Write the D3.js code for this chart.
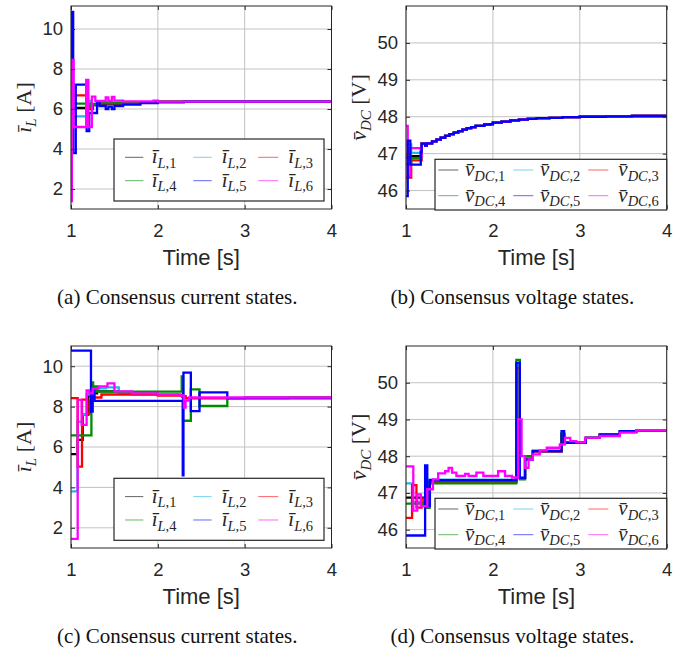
<!DOCTYPE html>
<html>
<head>
<meta charset="utf-8">
<script src="https://cdn.jsdelivr.net/npm/d3@7"></script>
<style>
  body { margin: 0; background: #fff; }
  svg { display: block; }
  .tick text { font-family: "Liberation Sans", Arial, sans-serif; font-size: 18.5px; fill: #262626; }
  .tick line { stroke: #262626; }
  .xlabel { font-family: "Liberation Sans", Arial, sans-serif; font-size: 22px; fill: #262626; }
  .caption { font-family: "Liberation Serif", "Times New Roman", serif; font-size: 21px; fill: #111; }
  .math { font-family: "Liberation Serif", "Times New Roman", serif; fill: #262626; }
</style>
</head>
<body>
<div id="chart"></div>
<script>
const timeTicks = [1, 2, 3, 4];
const currentTicks = [2, 4, 6, 8, 10];
const voltageTicks = [46, 47, 48, 49, 50];
const seriesColors = ['#000000', '#22b4ee', '#ff0000', '#008c00', '#0000ff', '#ff00ff'];
const currentSubs = ['L,1', 'L,2', 'L,3', 'L,4', 'L,5', 'L,6'];
const voltageSubs = ['DC,1', 'DC,2', 'DC,3', 'DC,4', 'DC,5', 'DC,6'];
const captions = [
  '(a) Consensus current states.',
  '(b) Consensus voltage states.',
  '(c) Consensus current states.',
  '(d) Consensus voltage states.'
];

// (a) consensus currents, [time, value] step points
const iL_a = [
  [[1, 6.05], [1.18, 6.1], [1.21, 6.0], [1.25, 6.2], [1.4, 6.25], [1.6, 6.32], [2, 6.36], [4, 6.37]],
  [[1, 5.63], [1.18, 6.4], [1.22, 6.2], [1.3, 6.3], [1.6, 6.34], [2, 6.37], [4, 6.37]],
  [[1, 6.68], [1.18, 6.05], [1.22, 6.2], [1.3, 6.28], [1.6, 6.34], [2, 6.37], [4, 6.37]],
  [[1, 6.27], [1.18, 6.15], [1.22, 6.25], [1.3, 6.3], [1.6, 6.34], [2, 6.37], [4, 6.37]],
  [[1, 6.0], [1.008, 10.85], [1.025, 3.8], [1.055, 7.22], [1.18, 4.9], [1.21, 5.8], [1.3, 6.35], [1.33, 6.15],
   [1.4, 6.0], [1.43, 6.12], [1.47, 6.0], [1.5, 6.15], [1.6, 6.22], [1.8, 6.3], [2.0, 6.33], [2.3, 6.37], [4, 6.37]],
  [[1, 1.4], [1.01, 8.45], [1.03, 5.1], [1.175, 7.45], [1.2, 5.1], [1.24, 6.62], [1.28, 6.4], [1.4, 6.58],
   [1.43, 6.4], [1.47, 6.6], [1.5, 6.42], [1.6, 6.38], [1.95, 6.42], [2.0, 6.37], [4, 6.37]]
];

// (b) consensus voltages
const vDC_b_tail = [
  [1.18, 47.27], [1.22, 47.22], [1.24, 47.28], [1.3, 47.33], [1.35, 47.38], [1.4, 47.43], [1.45, 47.48],
  [1.5, 47.53], [1.55, 47.57], [1.6, 47.61], [1.65, 47.65], [1.7, 47.69], [1.75, 47.72], [1.8, 47.75],
  [1.9, 47.79], [1.97, 47.8], [2.0, 47.84], [2.1, 47.87], [2.2, 47.9], [2.3, 47.92], [2.4, 47.94],
  [2.5, 47.96], [2.65, 47.97], [2.8, 47.99], [3.0, 48.0], [3.3, 48.01], [3.6, 48.02], [4, 48.03]
];
const vDC_b = [
  [[1, 46.9], [1.06, 46.93], ...vDC_b_tail],
  [[1, 47.25], [1.06, 47.02], ...vDC_b_tail],
  [[1, 46.35], [1.06, 46.82], ...vDC_b_tail],
  [[1, 46.72], [1.06, 46.88], ...vDC_b_tail],
  [[1, 45.85], [1.02, 47.35], [1.05, 46.7], [1.17, 47.05], ...vDC_b_tail],
  [[1, 47.75], [1.02, 46.4], [1.05, 47.15], [1.17, 46.9], ...vDC_b_tail]
];

// (c) consensus currents
const iL_c = [
  [[1, 5.65], [1.075, 6.35], [1.135, 7.6], [1.2, 8.55], [1.25, 8.65], [1.3, 8.75], [1.55, 8.7], [1.7, 8.62],
   [2.0, 8.58], [2.28, 8.5], [2.32, 8.42], [3.0, 8.44], [4, 8.45]],
  [[1, 3.8], [1.075, 7.25], [1.13, 7.6], [1.18, 8.6], [1.25, 8.8], [1.3, 8.9], [1.4, 8.95], [1.55, 8.7],
   [2.0, 8.58], [2.28, 8.5], [2.32, 8.42], [4, 8.45]],
  [[1, 8.42], [1.077, 5.03], [1.127, 8.35], [1.19, 7.65], [1.22, 8.3], [1.26, 8.45], [1.35, 8.6], [1.6, 8.6],
   [2.0, 8.55], [2.28, 8.5], [2.32, 8.42], [4, 8.45]],
  [[1, 6.58], [1.235, 9.2], [1.255, 8.4], [1.27, 9.0], [1.3, 8.74], [2.275, 9.5], [2.29, 7.3], [2.38, 8.85],
   [2.48, 8.03], [2.8, 8.42], [3.5, 8.45], [4, 8.45]],
  [[1, 10.77], [1.23, 7.75], [1.25, 8.9], [1.27, 8.28], [2.287, 4.6], [2.295, 9.68], [2.38, 7.78],
   [2.48, 8.7], [2.8, 8.42], [4, 8.45]],
  [[1, 1.45], [1.077, 8.33], [1.123, 7.1], [1.18, 8.8], [1.21, 8.65], [1.25, 8.9], [1.32, 9.0], [1.42, 9.15],
   [1.5, 8.75], [1.7, 8.65], [2.0, 8.6], [2.25, 8.55], [2.3, 7.95], [2.32, 8.3], [2.36, 8.45], [4, 8.45]]
];

// (d) consensus voltages
const vDC_d = [
  [[1, 46.87], [1.22, 46.6], [1.27, 47.3], [2.27, 50.5], [2.31, 47.4], [2.37, 47.93], [2.46, 48.13],
   [2.79, 48.6], [2.82, 48.37], [3.07, 48.5], [3.23, 48.58], [3.46, 48.66], [3.65, 48.7], [4, 48.71]],
  [[1, 47.26], [1.07, 46.75], [1.22, 46.65], [1.27, 47.36], [2.27, 50.5], [2.31, 47.42], [2.37, 47.92],
   [2.46, 48.14], [2.79, 48.6], [2.82, 48.37], [3.07, 48.5], [3.23, 48.58], [3.46, 48.66], [3.65, 48.7], [4, 48.71]],
  [[1, 46.32], [1.07, 47.21], [1.12, 46.6], [1.18, 46.85], [1.21, 46.65], [1.27, 47.3], [2.27, 50.4],
   [2.31, 47.4], [2.37, 47.92], [2.46, 48.13], [2.79, 48.6], [2.82, 48.37], [3.07, 48.5], [3.23, 48.58],
   [3.46, 48.66], [3.65, 48.7], [4, 48.71]],
  [[1, 46.71], [1.22, 46.6], [1.27, 47.26], [2.27, 50.62], [2.31, 47.37], [2.37, 48.0], [2.46, 48.15],
   [2.79, 48.62], [2.82, 48.38], [3.07, 48.5], [3.23, 48.58], [3.46, 48.66], [3.65, 48.7], [4, 48.71]],
  [[1, 45.84], [1.22, 47.75], [1.245, 46.65], [1.275, 47.35], [2.27, 50.54], [2.31, 47.41], [2.37, 47.91],
   [2.46, 48.14], [2.79, 48.68], [2.82, 48.36], [3.07, 48.5], [3.23, 48.59], [3.46, 48.68], [3.65, 48.71], [4, 48.71]],
  [[1, 47.72], [1.084, 46.52], [1.13, 46.96], [1.17, 46.64], [1.245, 47.1], [1.31, 47.37], [1.37, 47.53],
   [1.45, 47.59], [1.49, 47.68], [1.53, 47.55], [1.58, 47.46], [1.68, 47.52], [1.72, 47.46], [1.81, 47.55],
   [1.89, 47.46], [2.06, 47.59], [2.14, 47.46], [2.22, 47.42], [2.29, 49.0], [2.33, 48.0], [2.37, 47.68],
   [2.41, 47.91], [2.46, 48.05], [2.54, 48.16], [2.62, 48.23], [2.77, 48.32], [2.83, 48.5], [2.89, 48.41],
   [2.96, 48.38], [3.06, 48.5], [3.23, 48.55], [3.46, 48.64], [3.65, 48.71], [4, 48.71]]
];

const svg = d3.select('#chart').append('svg').attr('width', 683).attr('height', 650);

const panels = [
  { data: iL_a, ticks: currentTicks, yDomain: [1.0, 11.15], left: 71, right: 331.5, top: 6, bottom: 209,
    sym: 'ī', subs: currentSubs, unit: '[A]', caption: captions[0], order: [0, 1, 2, 3, 4, 5],
    legend: { x: 114, y: 139, w: 210, h: 62, r1: 18.3, r2: 41.7, cols: [[11, 29.3, 37.7], [79.3, 97.7, 107.7], [144.3, 164.3, 174.3]] } },
  { data: vDC_b, ticks: voltageTicks, yDomain: [45.5, 51.0], left: 406, right: 666.7, top: 6, bottom: 209,
    sym: 'v\u0304', subs: voltageSubs, unit: '[V]', caption: captions[1], order: [0, 1, 2, 3, 5, 4],
    legend: { x: 435, y: 159.3, w: 231.7, h: 50.7, r1: 10.7, r2: 36.4, cols: [[3.3, 23.3, 30], [78.3, 98.3, 105], [153.3, 173.3, 183.3]] } },
  { data: iL_c, ticks: currentTicks, yDomain: [1.0, 11.0], left: 71, right: 331.5, top: 346, bottom: 548,
    sym: 'ī', subs: currentSubs, unit: '[A]', caption: captions[2], order: [0, 1, 2, 3, 4, 5],
    legend: { x: 114, y: 478.3, w: 210, h: 62, r1: 18.3, r2: 41.7, cols: [[11, 29.3, 37.7], [79.3, 97.7, 107.7], [144.3, 164.3, 174.3]] } },
  { data: vDC_d, ticks: voltageTicks, yDomain: [45.5, 51.0], left: 406, right: 666.7, top: 346, bottom: 548,
    sym: 'v\u0304', subs: voltageSubs, unit: '[V]', caption: captions[3], order: [0, 1, 2, 3, 4, 5],
    legend: { x: 435, y: 498.3, w: 231.7, h: 50.7, r1: 10.7, r2: 36.4, cols: [[3.3, 23.3, 30], [78.3, 98.3, 105], [153.3, 173.3, 183.3]] } }
];

// symbol with italic sub like "DC" and upright ",1"
function mathLabel(text, sym, sub, size, subSize) {
  const [main, idx] = sub.split(',');
  text.append('tspan').attr('font-style', 'italic').attr('font-size', size).text(sym);
  text.append('tspan').attr('font-style', 'italic').attr('font-size', subSize).attr('dy', size * 0.22).text(main);
  if (idx) text.append('tspan').attr('font-size', subSize).text(',' + idx);
}

const fmt = d3.format('d');

panels.forEach((p, pi) => {
  const g = svg.append('g');
  const x = d3.scaleLinear().domain([1, 4]).range([p.left, p.right]);
  const y = d3.scaleLinear().domain(p.yDomain).range([p.bottom, p.top]);

  // grid
  g.append('g').selectAll('line').data(timeTicks).join('line')
    .attr('x1', d => x(d)).attr('x2', d => x(d)).attr('y1', p.top).attr('y2', p.bottom)
    .attr('stroke', '#c2c2c2').attr('stroke-width', 1);
  g.append('g').selectAll('line').data(p.ticks).join('line')
    .attr('x1', p.left).attr('x2', p.right).attr('y1', d => y(d)).attr('y2', d => y(d))
    .attr('stroke', '#c2c2c2').attr('stroke-width', 1);

  const clipId = 'clip' + pi;
  svg.append('clipPath').attr('id', clipId).append('rect')
    .attr('x', p.left).attr('y', p.top).attr('width', p.right - p.left).attr('height', p.bottom - p.top);

  const line = d3.line().curve(d3.curveStepAfter).x(d => x(d[0])).y(d => y(d[1]));
  g.append('g').attr('clip-path', `url(#${clipId})`).selectAll('path')
    .data(p.order).join('path')
    .attr('fill', 'none')
    .attr('stroke', i => seriesColors[i])
    .attr('stroke-width', 2.3)
    .attr('d', i => line(p.data[i]));

  // axes, ticks pointing inward on all sides
  g.append('g').attr('transform', `translate(0,${p.bottom})`)
    .call(d3.axisBottom(x).tickValues(timeTicks).tickFormat(fmt).tickSizeInner(-4).tickSizeOuter(0).tickPadding(15))
    .call(a => a.select('.domain').remove());
  g.append('g').attr('transform', `translate(0,${p.top})`)
    .call(d3.axisTop(x).tickValues(timeTicks).tickSizeInner(-4).tickSizeOuter(0).tickFormat(''))
    .call(a => a.select('.domain').remove());
  g.append('g').attr('transform', `translate(${p.left},0)`)
    .call(d3.axisLeft(y).tickValues(p.ticks).tickFormat(fmt).tickSizeInner(-4).tickSizeOuter(0).tickPadding(8))
    .call(a => a.select('.domain').remove());
  g.append('g').attr('transform', `translate(${p.right},0)`)
    .call(d3.axisRight(y).tickValues(p.ticks).tickSizeInner(-4).tickSizeOuter(0).tickFormat(''))
    .call(a => a.select('.domain').remove());

  g.append('rect')
    .attr('x', p.left).attr('y', p.top).attr('width', p.right - p.left).attr('height', p.bottom - p.top)
    .attr('fill', 'none').attr('stroke', '#262626').attr('stroke-width', 1);

  // y label
  const yl = g.append('text').attr('class', 'math')
    .attr('transform', `translate(${p.left - 40},${(p.top + p.bottom) / 2}) rotate(-90)`)
    .attr('text-anchor', 'middle');
  mathLabel(yl, p.sym, p.subs[0].split(',')[0], 22, 15);
  yl.append('tspan').attr('dy', -22 * 0.22).attr('font-size', 22).text(' ' + p.unit);

  // legend
  const L = p.legend;
  const lg = g.append('g').attr('transform', `translate(${L.x},${L.y})`);
  lg.append('rect').attr('width', L.w).attr('height', L.h)
    .attr('fill', '#fff').attr('stroke', '#262626').attr('stroke-width', 1.2);
  p.subs.forEach((s, i) => {
    const col = L.cols[i % 3];
    const ry = i < 3 ? L.r1 : L.r2;
    lg.append('line').attr('x1', col[0]).attr('x2', col[1]).attr('y1', ry).attr('y2', ry)
      .attr('stroke', seriesColors[i]).attr('stroke-width', 1).attr('opacity', 0.6);
    const t = lg.append('text').attr('class', 'math').attr('x', col[2]).attr('y', ry + 6);
    mathLabel(t, p.sym, s, 21, 14.5);
  });

  // x label and caption
  g.append('text').attr('class', 'xlabel').attr('text-anchor', 'middle')
    .attr('x', (p.left + p.right) / 2).attr('y', p.bottom + 56).text('Time [s]');
  g.append('text').attr('class', 'caption').attr('text-anchor', 'middle')
    .attr('x', (p.left + p.right) / 2 - 24).attr('y', p.bottom + 95).text(p.caption);
});
</script>
</body>
</html>
